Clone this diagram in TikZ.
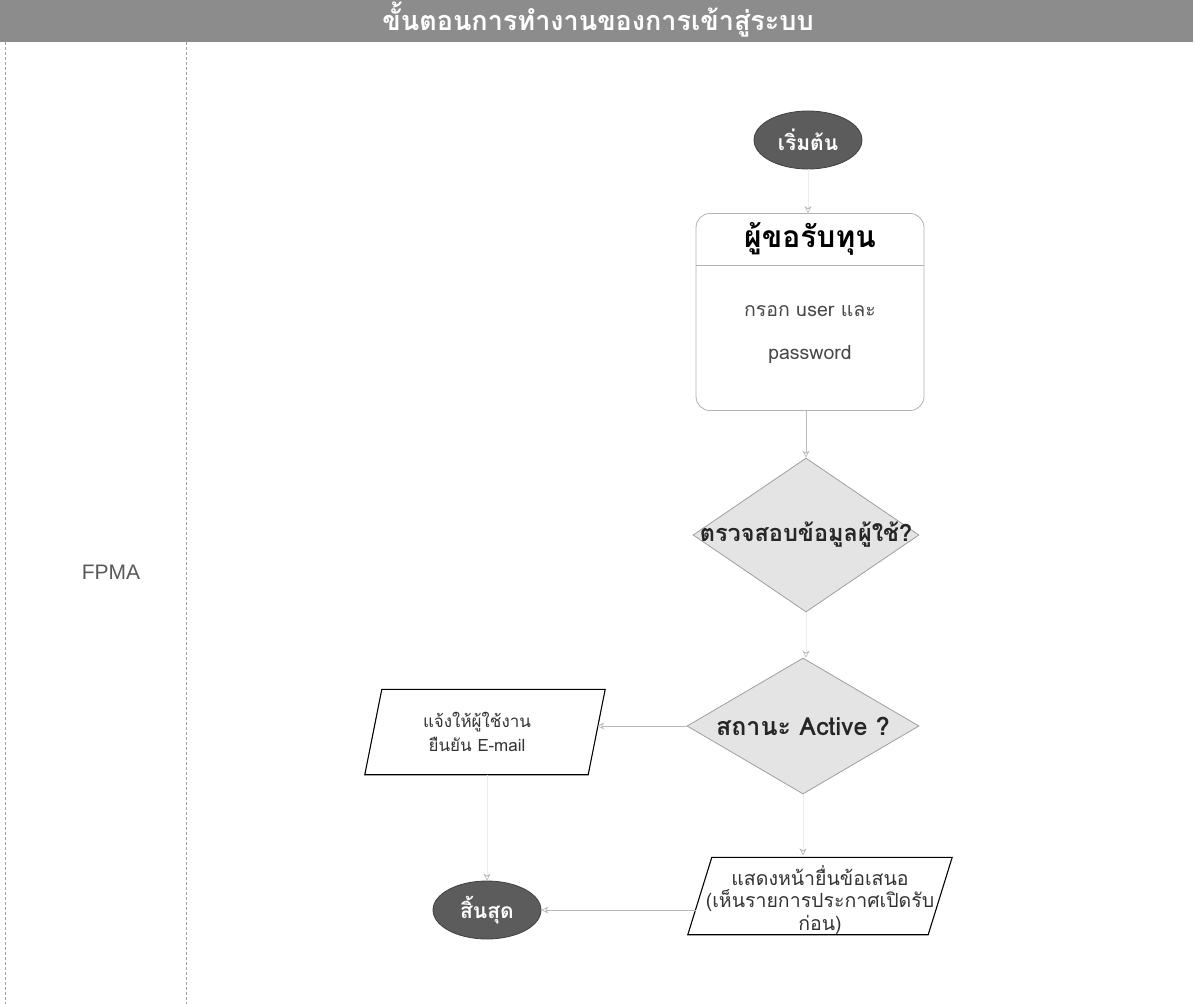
\documentclass[tikz,border=0pt]{standalone}
\usepackage{fontspec}
\setmainfont{Liberation Sans}
\newfontfamily\thai[Script=Thai]{Loma}
\usetikzlibrary{shapes.geometric,arrows.meta,calc}
\definecolor{bandc}{HTML}{8C8C8C}
\definecolor{termc}{HTML}{5C5C5C}
\definecolor{decfill}{HTML}{E4E4E4}
\definecolor{lanec}{HTML}{A0A0A0}
\begin{document}
\begin{tikzpicture}[x=1pt,y=-1pt,
  terminal/.style={ellipse, fill=termc, draw=termc!70!black, line width=0.8pt, minimum width=108pt, minimum height=58pt, inner sep=0pt},
  termtext/.style={font=\thai\bfseries\fontsize{21}{24}\selectfont, text=white},
  decision/.style={diamond, fill=decfill, draw=gray!75, line width=0.8pt, inner sep=0pt},
  dectext/.style={font=\thai\bfseries\fontsize{23.5}{26}\selectfont, text=black!85},
  iorect/.style={rectangle, draw=none, inner sep=0pt},
  ioline/.style={draw=black, line width=1.1pt, fill=white, line join=miter},
  iotext/.style={font=\thai\fontsize{17}{24}\selectfont, align=center, text=black!80},
  conn/.style={draw=gray!55, line width=0.7pt, -{Stealth[length=7pt,width=7pt,open]}},
  faint/.style={draw=gray!14, line width=0.6pt, -{Stealth[length=7pt,width=7pt,open,gray!60]}},
  lane/.style={draw=lanec, line width=0.7pt, densely dashed}
]
\useasboundingbox (0,0) rectangle (1195,1004);
% header band
\fill[bandc] (0,0) rectangle (1193,42);
\node[font=\thai\bfseries\fontsize{27}{30}\selectfont, text=white] (title) at (598,20) {ขั้นตอนการทำงานของการเข้าสู่ระบบ};
% lane lines
\draw[lane] (5,42) -- (5,1004);
\draw[lane] (186,42) -- (186,1004);
\node[font=\fontsize{21}{24}\selectfont, text=black!65] (lanelbl) at (111,572) {FPMA};

% start
\node[terminal] (start) at (808,140) {};
\node[termtext] (startt) at (start.center) {เริ่มต้น};
% applicant box
\node[draw=gray!60, line width=0.8pt, rounded corners=14pt, minimum width=228pt, minimum height=197pt, fill=white] (box) at (810,312) {};
\draw[draw=gray!60, line width=0.7pt] ($(box.north west)+(0,52)$) -- ($(box.north east)+(0,52)$);
\node[font=\thai\bfseries\fontsize{30}{34}\selectfont, text=black] (boxh) at ($(box.north)+(0,26)$) {ผู้ขอรับทุน};
\node[font=\thai\fontsize{19.5}{43}\selectfont, align=center, text=black!72] (boxb) at ($(box.north)+(0,121)$) {กรอก user และ\\password};
% decision 1
\node[decision, minimum width=226pt, minimum height=154pt] (d1) at (806,535) {};
\node[dectext] (d1t) at (d1.center) {ตรวจสอบข้อมูลผู้ใช้?};
% decision 2
\node[decision, minimum width=232pt, minimum height=136pt] (d2) at (803,726) {};
\node[dectext, font=\thai\bfseries\fontsize{25}{28}\selectfont] (d2t) at (d2.center) {สถานะ Active ?};
% io 1
\node[iorect, minimum width=240pt, minimum height=85pt] (p1) at (485,732) {};
\draw[ioline] ($(p1.north west)+(17,0)$) -- (p1.north east) -- ($(p1.south east)+(-17,0)$) -- (p1.south west) -- cycle;
\node[iotext] (p1t) at ($(p1.center)+(-8,0)$) {แจ้งให้ผู้ใช้งาน\\ยืนยัน E-mail};
% io 2
\node[iorect, minimum width=264pt, minimum height=77pt] (p2) at (820,896) {};
\draw[ioline] ($(p2.north west)+(24,0)$) -- (p2.north east) -- ($(p2.south east)+(-24,0)$) -- (p2.south west) -- cycle;
\node[iotext, font=\thai\fontsize{19.5}{22.5}\selectfont] (p2t) at ($(p2.center)+(0,4)$) {แสดงหน้ายื่นข้อเสนอ\\(เห็นรายการประกาศเปิดรับ\\ก่อน)};
% end
\node[terminal] (fin) at (487,910) {};
\node[termtext] (fint) at (fin.center) {สิ้นสุด};

% connectors
\draw[faint] (start.south) -- (start.south |- box.north);
\draw[conn] (box.south -| d1.north) -- (d1.north);
\draw[faint] (d1.south) -- (d1.south |- d2.north);
\draw[conn] (d2.west) -- (d2.west -| {$(p1.east)+(-8,0)$});
\draw[faint] (d2.south) -- ($(d2.south |- p2.north)+(0,-2)$);
\draw[faint] (p1.south -| fin.north) -- (fin.north);
\draw[conn] (fin.east -| {$(p2.west)+(8,0)$}) -- (fin.east);
\end{tikzpicture}
\end{document}
